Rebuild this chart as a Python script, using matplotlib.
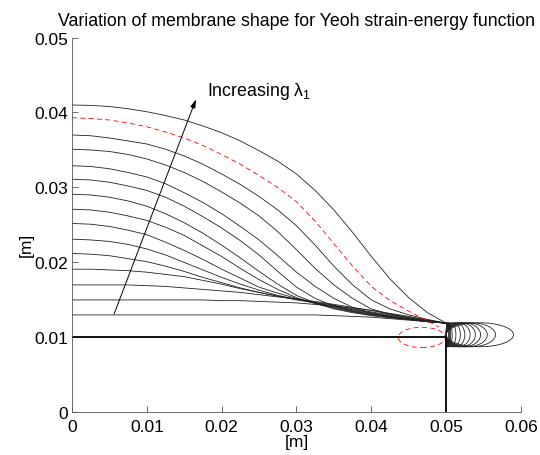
import matplotlib
matplotlib.use('Agg')
import matplotlib.pyplot as plt
from matplotlib.patches import Ellipse

plt.rcParams['font.family'] = ['Liberation Sans', 'DejaVu Sans']
plt.rcParams['mathtext.fontset'] = 'custom'
plt.rcParams['mathtext.rm'] = 'Liberation Sans'
plt.rcParams['mathtext.it'] = 'Liberation Sans'

# membrane profiles (x in m, one row per curve, top first)
x_prof = [0, 0.0025, 0.005, 0.0075, 0.01, 0.0125, 0.015, 0.0175, 0.02, 0.0225, 0.025,
          0.0275, 0.03, 0.0325, 0.035, 0.0375, 0.04, 0.0425, 0.045, 0.0475, 0.05]
profiles = [
    [0.0410, 0.04095, 0.0408, 0.0405, 0.0401, 0.0396, 0.0390, 0.0382, 0.0373, 0.0362, 0.0349,
     0.0335, 0.0318, 0.0296, 0.0270, 0.0240, 0.0208, 0.0178, 0.0153, 0.0133, 0.0119],
    [0.0370, 0.0369, 0.0366, 0.0362, 0.0358, 0.0351, 0.0342, 0.0331, 0.0318, 0.0304, 0.0288,
     0.0270, 0.0249, 0.0223, 0.0195, 0.0170, 0.0150, 0.0138, 0.0130, 0.0124, 0.0119],
    [0.0351, 0.0350, 0.0348, 0.0344, 0.0338, 0.0330, 0.0320, 0.0308, 0.0294, 0.0279, 0.0262,
     0.0241, 0.0217, 0.0192, 0.0170, 0.0152, 0.0138, 0.0131, 0.0126, 0.0122, 0.0119],
    [0.0329, 0.0328, 0.0325, 0.0320, 0.0314, 0.0305, 0.0293, 0.0280, 0.0265, 0.0248, 0.0230,
     0.0209, 0.0187, 0.0168, 0.0152, 0.0140, 0.0132, 0.0127, 0.0124, 0.0121, 0.0119],
    [0.0311, 0.0310, 0.0307, 0.0302, 0.0296, 0.0287, 0.0275, 0.0261, 0.0246, 0.0229, 0.0210,
     0.0188, 0.0167, 0.0152, 0.0142, 0.0135, 0.0130, 0.0127, 0.0124, 0.0121, 0.0119],
    [0.0291, 0.0290, 0.0287, 0.0282, 0.0275, 0.0265, 0.0253, 0.0239, 0.0223, 0.0206, 0.0188,
     0.0171, 0.0156, 0.0146, 0.0138, 0.0133, 0.0129, 0.0126, 0.0124, 0.0121, 0.0119],
    [0.0271, 0.0270, 0.0267, 0.0262, 0.0256, 0.0247, 0.0236, 0.0222, 0.0208, 0.0192, 0.0177,
     0.0164, 0.0153, 0.0145, 0.0139, 0.0134, 0.0130, 0.0127, 0.0124, 0.0121, 0.0119],
    [0.0252, 0.0251, 0.0248, 0.0243, 0.0237, 0.0227, 0.0216, 0.0204, 0.0191, 0.0179, 0.0167,
     0.0159, 0.0152, 0.0146, 0.0140, 0.0135, 0.0131, 0.0128, 0.0125, 0.0122, 0.0119],
    [0.0231, 0.0230, 0.0228, 0.0224, 0.0218, 0.0210, 0.0200, 0.0190, 0.0180, 0.0171, 0.0163,
     0.0156, 0.0151, 0.0146, 0.0141, 0.0136, 0.0132, 0.0128, 0.0125, 0.0122, 0.0119],
    [0.0212, 0.0211, 0.0209, 0.0205, 0.0201, 0.0195, 0.0188, 0.0180, 0.0173, 0.0166, 0.0160,
     0.0155, 0.0150, 0.0146, 0.0142, 0.0137, 0.0133, 0.0129, 0.0125, 0.0122, 0.0119],
    [0.0191, 0.0191, 0.0190, 0.0189, 0.0187, 0.0184, 0.0181, 0.0176, 0.0171, 0.0165, 0.0160,
     0.0155, 0.0151, 0.0147, 0.0143, 0.0138, 0.0134, 0.0130, 0.0126, 0.0122, 0.0119],
    [0.0170, 0.0170, 0.0170, 0.0170, 0.0169, 0.0168, 0.0166, 0.0164, 0.0162, 0.0160, 0.0157,
     0.0154, 0.0151, 0.0148, 0.0144, 0.0140, 0.0136, 0.0131, 0.0127, 0.0123, 0.0119],
    [0.0150, 0.0150, 0.0150, 0.0150, 0.0150, 0.0150, 0.0150, 0.0150, 0.0149, 0.0149, 0.0148,
     0.0147, 0.0146, 0.0144, 0.0142, 0.0139, 0.0136, 0.0132, 0.0128, 0.0123, 0.0119],
    [0.0130, 0.0130, 0.0130, 0.0130, 0.0130, 0.0130, 0.0130, 0.0130, 0.0130, 0.0130, 0.0130,
     0.0130, 0.0130, 0.0130, 0.0129, 0.0128, 0.0127, 0.0125, 0.0123, 0.0121, 0.0119],
]
# rim loops, right-most x of each loop (same order as profiles)
loop_right = [0.0590, 0.0566, 0.0555, 0.0546, 0.0539, 0.0532, 0.0525, 0.0519,
              0.0513, 0.0508, 0.0506, 0.0505, 0.0504, 0.0503]
loop_left = 0.0500
loop_yc = 0.01035
loop_h = 0.0032

# red dashed reference shape
x_red = [0, 0.0025, 0.005, 0.0075, 0.01, 0.0125, 0.015, 0.0175, 0.02, 0.0225, 0.025,
         0.0275, 0.03, 0.0325, 0.035, 0.0375, 0.04, 0.0425, 0.045, 0.0475, 0.049]
y_red = [0.0393, 0.0392, 0.0390, 0.0386, 0.0381, 0.0374, 0.0366, 0.0356, 0.0344, 0.0331, 0.0316,
         0.0300, 0.0281, 0.0255, 0.0225, 0.0195, 0.0168, 0.0149, 0.0135, 0.0122, 0.0114]
red_loop = (0.04675, 0.0100, 0.0063, 0.0027)  # centre x, centre y, width, height

# flat (undeformed) membrane and support
x_flat = [0, 0.05, 0.05]
y_flat = [0.01, 0.01, 0]

arrow_tail = (0.0055, 0.0128)
arrow_head = (0.0167, 0.0421)

fig = plt.figure(figsize=(5.4, 4.56), dpi=100)
ax = fig.add_axes([0.1333, 0.0935, 0.8315, 0.822])

for ys in profiles:
    ax.plot(x_prof, ys, color='#222222', lw=0.6)
for r in loop_right:
    ax.add_patch(Ellipse(((loop_left + r) / 2, loop_yc), r - loop_left, loop_h,
                         fill=False, ec='#222222', lw=0.6))

ax.plot(x_red, y_red, color='red', lw=0.6, ls=(0, (6, 4)))
ax.add_patch(Ellipse(red_loop[:2], red_loop[2], red_loop[3], fill=False,
                     ec='red', lw=0.6, ls=(0, (6, 4))))

ax.plot(x_flat, y_flat, color='black', lw=1.3)

ax.annotate('', xy=arrow_head, xytext=arrow_tail,
            arrowprops=dict(arrowstyle='-|>,head_length=0.5,head_width=0.15',
                            color='black', lw=0.7))
ax.text(0.0181, 0.0429, 'Increasing λ$_1$', fontsize=12.8, va='center')

ax.set_xlim(0, 0.06)
ax.set_ylim(0, 0.05)
ax.set_xticks([0, 0.01, 0.02, 0.03, 0.04, 0.05, 0.06])
ax.set_xticklabels(['0', '0.01', '0.02', '0.03', '0.04', '0.05', '0.06'])
ax.set_yticks([0, 0.01, 0.02, 0.03, 0.04, 0.05])
ax.set_yticklabels(['0', '0.01', '0.02', '0.03', '0.04', '0.05'])
ax.tick_params(direction='in', length=4, width=0.6, color='#555555',
               labelsize=12.5, pad=3)
ax.tick_params(axis='x', pad=5)
for s in ['top', 'right']:
    ax.spines[s].set_visible(False)
for s in ['left', 'bottom']:
    ax.spines[s].set_color('#555555')
    ax.spines[s].set_linewidth(0.6)

ax.set_xlabel('[m]', fontsize=12.5, labelpad=0)
ax.set_ylabel('[m]', fontsize=12.5)
ax.yaxis.set_label_coords(-0.085, 0.45)
ax.set_title('Variation of membrane shape for Yeoh strain-energy function',
             fontsize=12.8, pad=9)

fig.savefig('out.png', dpi=100)
